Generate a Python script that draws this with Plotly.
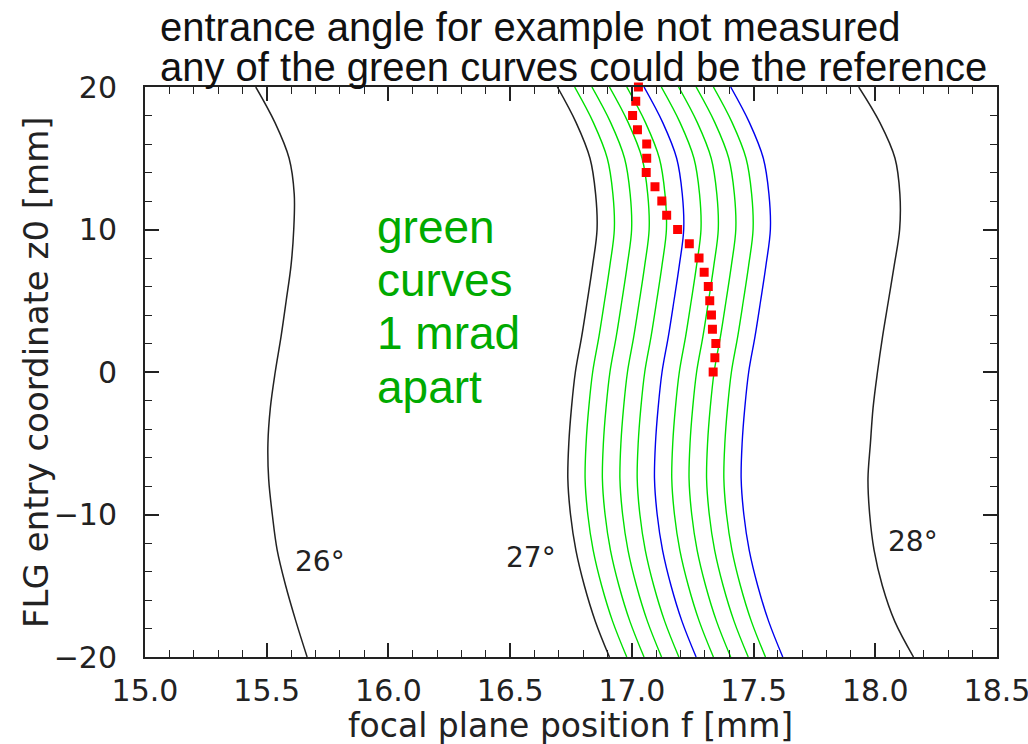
import plotly.graph_objects as go

# ---------------- data ----------------
z_grid = [20, 17.5, 15, 12.5, 10, 7.5, 5, 2.5, 0, -2.5, -5, -7.5, -10, -12.5, -15, -17.5, -20]

f_26deg = [15.455, 15.534, 15.592, 15.613, 15.611, 15.600, 15.580, 15.559, 15.535,
           15.515, 15.505, 15.508, 15.523, 15.543, 15.578, 15.620, 15.666]
f_27deg = [16.694, 16.771, 16.828, 16.851, 16.857, 16.839, 16.817, 16.794, 16.768,
           16.752, 16.741, 16.737, 16.748, 16.770, 16.805, 16.850, 16.908]
f_28deg = [17.932, 18.019, 18.081, 18.101, 18.100, 18.078, 18.054, 18.030, 18.009,
           17.991, 17.980, 17.970, 17.977, 17.995, 18.029, 18.080, 18.157]

f_mrad1 = [16.765, 16.842, 16.899, 16.922, 16.928, 16.910, 16.888, 16.865, 16.839,
           16.823, 16.812, 16.808, 16.819, 16.841, 16.876, 16.921, 16.979]
f_mrad2 = [16.836, 16.913, 16.970, 16.993, 16.999, 16.981, 16.959, 16.936, 16.910,
           16.894, 16.883, 16.879, 16.890, 16.912, 16.947, 16.992, 17.050]
f_mrad3 = [16.908, 16.985, 17.042, 17.065, 17.071, 17.053, 17.031, 17.008, 16.982,
           16.966, 16.955, 16.951, 16.962, 16.984, 17.019, 17.064, 17.122]
f_mrad4 = [16.979, 17.056, 17.113, 17.136, 17.142, 17.124, 17.102, 17.079, 17.053,
           17.037, 17.026, 17.022, 17.033, 17.055, 17.090, 17.135, 17.193]
f_mrad5 = [17.050, 17.127, 17.184, 17.207, 17.213, 17.195, 17.173, 17.150, 17.124,
           17.108, 17.097, 17.093, 17.104, 17.126, 17.161, 17.206, 17.264]
f_mrad6 = [17.121, 17.198, 17.255, 17.278, 17.284, 17.266, 17.244, 17.221, 17.195,
           17.179, 17.168, 17.164, 17.175, 17.197, 17.232, 17.277, 17.335]
f_mrad7 = [17.192, 17.269, 17.326, 17.349, 17.355, 17.337, 17.315, 17.292, 17.266,
           17.250, 17.239, 17.235, 17.246, 17.268, 17.303, 17.348, 17.406]
f_mrad8 = [17.264, 17.341, 17.398, 17.421, 17.427, 17.409, 17.387, 17.364, 17.338,
           17.322, 17.311, 17.307, 17.318, 17.340, 17.375, 17.420, 17.478]
f_mrad9 = [17.335, 17.412, 17.469, 17.492, 17.498, 17.480, 17.458, 17.435, 17.409,
           17.393, 17.382, 17.378, 17.389, 17.411, 17.446, 17.491, 17.549]
f_mrad10 = [17.406, 17.483, 17.540, 17.563, 17.569, 17.551, 17.529, 17.506, 17.480,
            17.464, 17.453, 17.449, 17.460, 17.482, 17.517, 17.562, 17.620]

example_z = [20, 19, 18, 17, 16, 15, 14, 13, 12, 11, 10, 9, 8, 7, 6, 5, 4, 3, 2, 1, 0]
example_f = [17.027, 17.016, 17.003, 17.023, 17.061, 17.061, 17.059, 17.095, 17.123,
             17.143, 17.188, 17.236, 17.276, 17.297, 17.314, 17.320, 17.327, 17.331,
             17.345, 17.341, 17.334]

angle_labels = ["26°", "27°", "28°"]
angle_label_f = [15.61, 16.475, 18.045]
angle_label_z = [-13.3, -13.0, -11.9]

x_ticks = [15.0, 15.5, 16.0, 16.5, 17.0, 17.5, 18.0, 18.5]
y_ticks = [-20, -10, 0, 10, 20]

# ---------------- figure ----------------
BLACK = "#222222"
GREEN = "#00e000"
BLUE = "#0000ee"

fan = [(f_mrad1, GREEN), (f_mrad2, GREEN), (f_mrad3, GREEN), (f_mrad4, GREEN),
       (f_mrad5, BLUE), (f_mrad6, GREEN), (f_mrad7, GREEN), (f_mrad8, GREEN),
       (f_mrad9, GREEN), (f_mrad10, BLUE)]

fig = go.Figure()
for f_vals in (f_26deg, f_27deg, f_28deg):
    fig.add_trace(go.Scatter(x=f_vals, y=z_grid, mode="lines",
                             line=dict(color=BLACK, width=1.5, shape="spline"),
                             hoverinfo="skip"))
for f_vals, col in fan:
    fig.add_trace(go.Scatter(x=f_vals, y=z_grid, mode="lines",
                             line=dict(color=col, width=1.4, shape="spline"),
                             hoverinfo="skip"))
fig.add_trace(go.Scatter(x=example_f, y=example_z, mode="markers",
                         marker=dict(symbol="square", size=9, color="#ff0000",
                                     line=dict(width=0)),
                         cliponaxis=False))

for txt, fx, fz in zip(angle_labels, angle_label_f, angle_label_z):
    fig.add_annotation(x=fx, y=fz, text=txt, showarrow=False, xanchor="left",
                       yanchor="middle",
                       font=dict(family="DejaVu Sans", size=28, color=BLACK))

green_lines = ["green", "curves", "1 mrad", "apart"]
green_y = [0.755, 0.662, 0.569, 0.474]
for txt, gy in zip(green_lines, green_y):
    fig.add_annotation(xref="paper", yref="paper", x=0.2705, y=gy, text=txt,
                       showarrow=False, xanchor="left", yanchor="middle",
                       font=dict(family="Liberation Sans", size=46, color="#00aa00"))

title_lines = ["entrance angle for example not measured",
               "any of the green curves could be the reference"]
title_y = [1.106, 1.035]
for txt, ty in zip(title_lines, title_y):
    fig.add_annotation(xref="paper", yref="paper", x=0.0153, y=ty, text=txt,
                       showarrow=False, xanchor="left", yanchor="middle",
                       font=dict(family="Liberation Sans", size=40, color="#111111"))

fig.add_annotation(xref="paper", yref="paper", x=0.499, y=-0.121,
                   text="focal plane position f [mm]", showarrow=False,
                   xanchor="center", yanchor="middle",
                   font=dict(family="DejaVu Sans", size=33, color=BLACK))
fig.add_annotation(xref="paper", yref="paper", x=-0.128, y=0.5,
                   text="FLG entry coordinate z0 [mm]", showarrow=False,
                   textangle=-90, xanchor="center", yanchor="middle",
                   font=dict(family="DejaVu Sans", size=34, color=BLACK))

axis_common = dict(ticks="inside", ticklen=14, tickwidth=1.6, tickcolor=BLACK,
                   showline=True, linewidth=2, linecolor=BLACK, mirror="allticks",
                   showgrid=False, zeroline=False, ticklabeloverflow="allow",
                   tickfont=dict(family="DejaVu Sans", size=30, color=BLACK))

fig.update_xaxes(range=[15, 18.5], tickvals=x_ticks, tickformat=".1f",
                 minor=dict(dtick=0.1, ticks="inside", ticklen=7, tickwidth=1.4,
                            tickcolor=BLACK, showgrid=False),
                 ticklabelstandoff=6, **axis_common)
fig.update_yaxes(range=[-20, 20], tickvals=y_ticks,
                 minor=dict(dtick=2, ticks="inside", ticklen=7, tickwidth=1.4,
                            tickcolor=BLACK, showgrid=False),
                 ticklabelstandoff=20, **axis_common)

fig.update_layout(width=1028, height=744,
                  margin=dict(l=145, r=31, t=87, b=87, autoexpand=False),
                  plot_bgcolor="white", paper_bgcolor="white", showlegend=False)

fig.write_html("out.html")
